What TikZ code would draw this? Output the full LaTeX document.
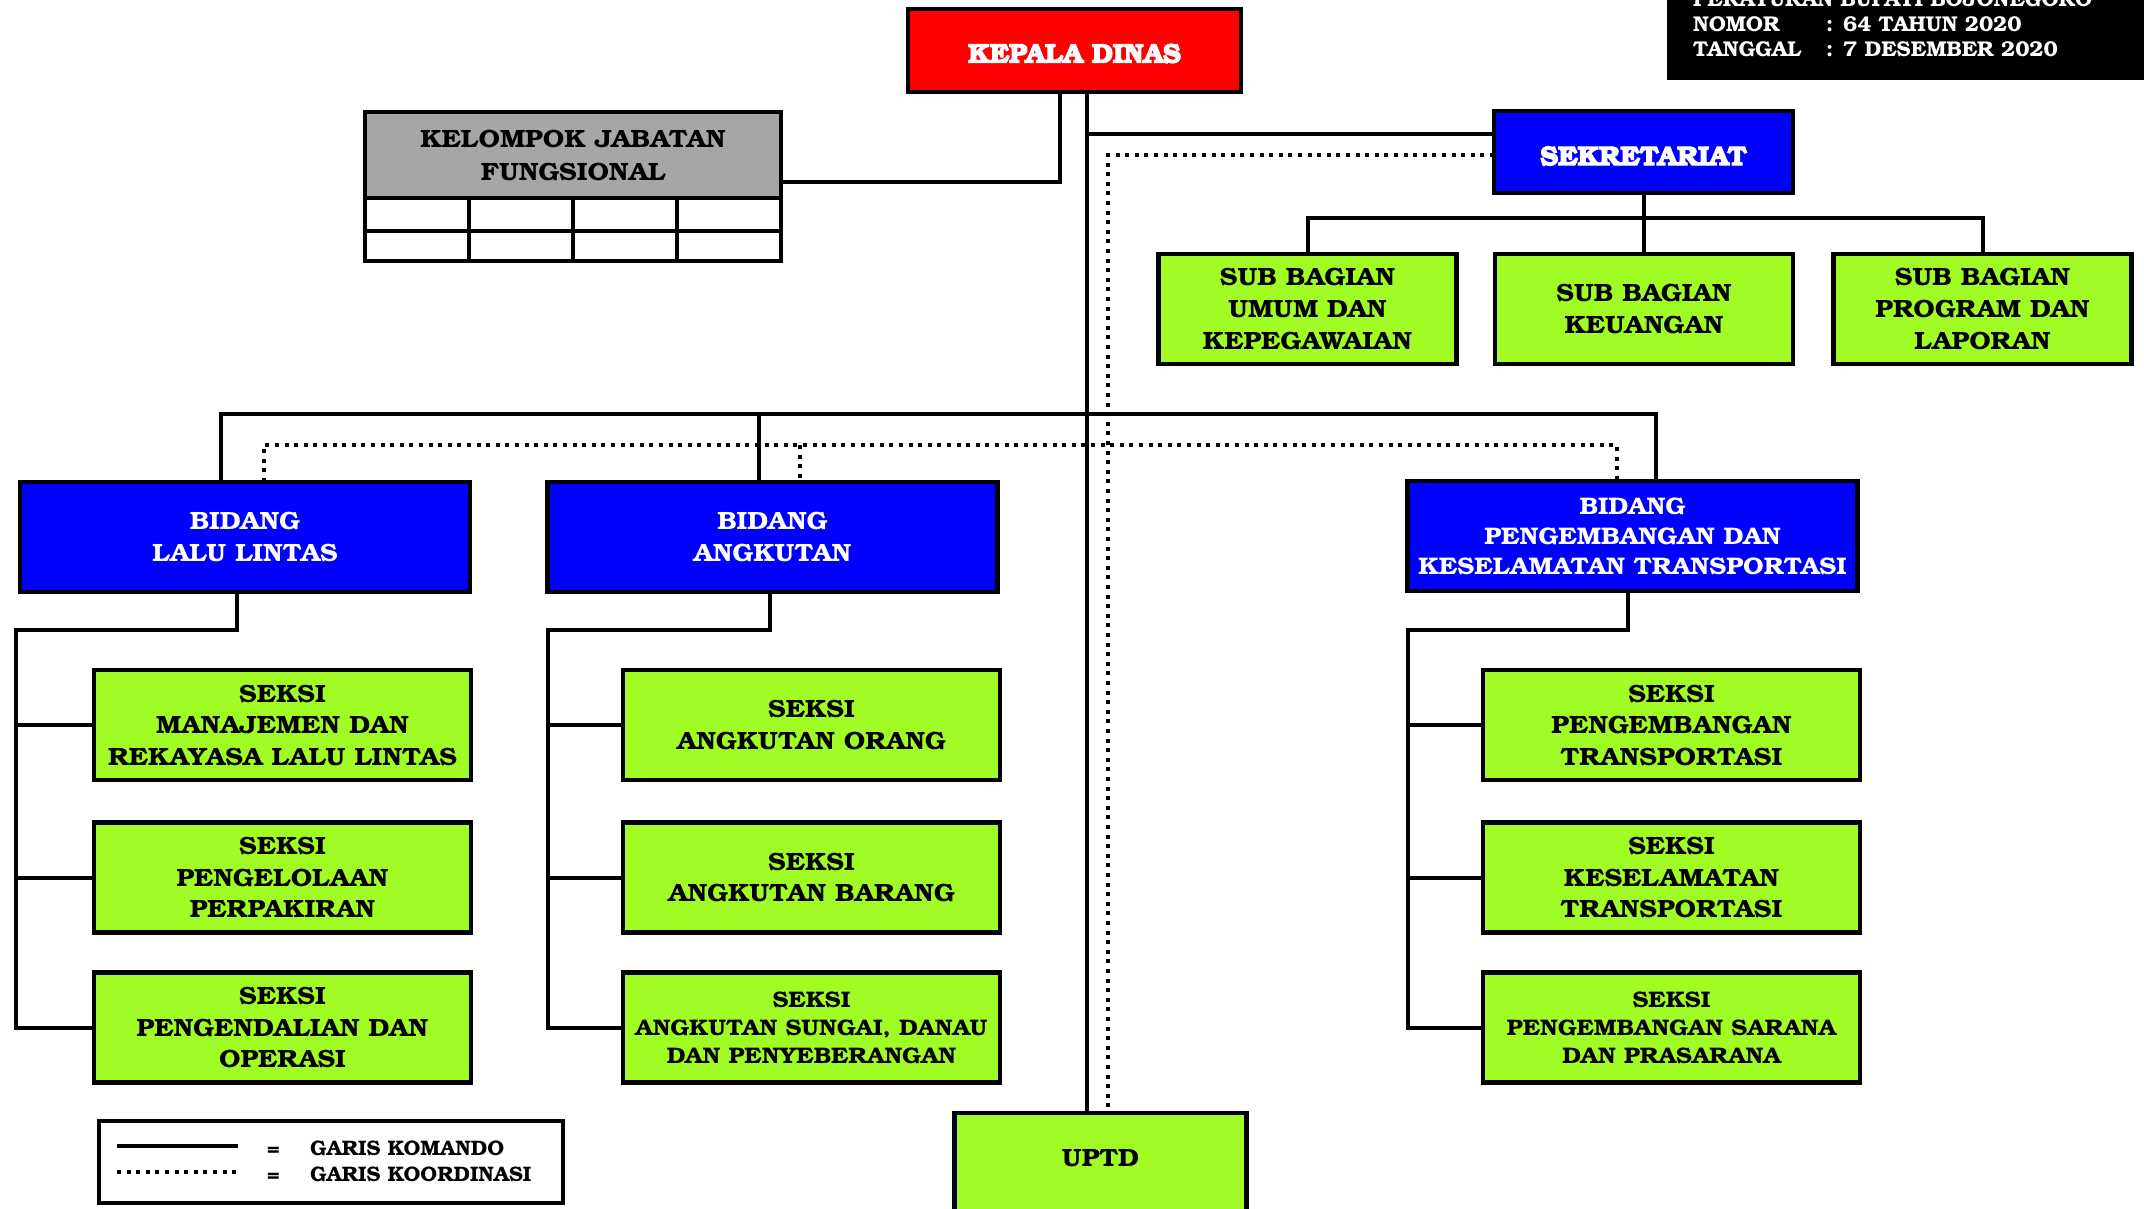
\documentclass[tikz,border=0pt]{standalone}
\usepackage{fontspec}
\setmainfont{texgyrebonum}[Extension=.otf, UprightFont=*-regular, BoldFont=*-bold, ItalicFont=*-italic, BoldItalicFont=*-bolditalic]
\newfontfamily\heavyfont{texgyrebonum-bold.otf}[FakeBold=4]
\newfontfamily\bkw{texgyrebonum-bold.otf}[FakeStretch=1.07]
\definecolor{lgreen}{RGB}{160,252,36}
\definecolor{pblue}{RGB}{0,0,255}
\definecolor{kgray}{RGB}{166,166,166}
\tikzset{
  ln/.style={line width=4pt, line cap=rect},
  koord/.style={line width=4pt, dash pattern=on 4pt off 5.6pt},
  box/.style={draw, line width=4.5pt, inner sep=0pt, outer sep=0pt, align=center,
    font=\bkw\fontsize{25}{31.5}\selectfont},
  small/.style={font=\bkw\fontsize{22.5}{28}\selectfont},
  pk/.style={font=\bkw\fontsize{24}{30}\selectfont},
  gbox/.style={box, fill=lgreen},
  bbox/.style={box, fill=pblue, text=white},
  seksi/.style={gbox, minimum width=377, minimum height=110},
  bid/.style={bbox, minimum width=450, minimum height=110},
  subbag/.style={gbox, minimum width=298, minimum height=110, font=\bkw\fontsize{25}{32}\selectfont},
  headbox/.style={box, text=white, font=\heavyfont\fontsize{27}{30}\selectfont},
  hdrtxt/.style={text=white, inner sep=0pt, anchor=base west, font=\bfseries\fontsize{21.4}{26}\selectfont},
  legtxt/.style={inner sep=0pt, anchor=base west, font=\bfseries\fontsize{21}{26}\selectfont},
}
\begin{document}
\begin{tikzpicture}[x=1pt,y=-1pt]
\useasboundingbox (0,0) rectangle (2144,1208);
% header
\node[fill=black, inner sep=0pt, minimum width=490, minimum height=92, anchor=south west] (hdr) at (1667,80) {};
\node[hdrtxt] (h1) at (1693,6) {PERATURAN BUPATI BOJONEGORO};
\node[hdrtxt] (h2) at (1693,31) {NOMOR};
\node[hdrtxt] (h2c) at (1826,31) {:};
\node[hdrtxt] (h2v) at (1843,31) {64 TAHUN 2020};
\node[hdrtxt] (h3) at (1693,56) {TANGGAL};
\node[hdrtxt] (h3c) at (1826,56) {:};
\node[hdrtxt] (h3v) at (1843,56) {7 DESEMBER 2020};
% top nodes
\node[headbox, fill=red, minimum width=333, minimum height=83, text height=24.4pt, text depth=0pt] (kd) at (1074.5,50.5) {KEPALA DINAS};
\node[box, fill=kgray, minimum width=416, minimum height=86, font=\bkw\fontsize{25}{33}\selectfont] (kjf) at (573,155) {KELOMPOK JABATAN\\FUNGSIONAL};
\node[headbox, fill=pblue, minimum width=299, minimum height=82, text height=26.4pt, text depth=0pt] (sek) at (1643.5,152) {SEKRETARIAT};
% kjf table
\draw[line width=4.5pt] (kjf.south west) -- ++(0,63) -| (kjf.south east);
\draw[line width=4.5pt] (kjf.south west) ++(0,33) -- ++(416,0);
\foreach \cx in {104,208,312} \draw[line width=4.5pt] (kjf.south west) ++(\cx,0) -- ++(0,63);
% sub bagian
\node[subbag] (sb1) at (1307.5,309) {SUB BAGIAN\\UMUM DAN\\KEPEGAWAIAN};
\node[subbag] (sb2) at (1644,309) {SUB BAGIAN\\KEUANGAN};
\node[subbag] (sb3) at (1982.5,309) {SUB BAGIAN\\PROGRAM DAN\\LAPORAN};
% bidang
\node[bid] (bll) at (245,537) {BIDANG\\LALU LINTAS};
\node[bid] (ban) at (772.5,537) {BIDANG\\ANGKUTAN};
\node[bid, pk] (bpk) at (1632.5,536) {BIDANG\\PENGEMBANGAN DAN\\KESELAMATAN TRANSPORTASI};
% seksi
\node[seksi] (s11) at (282.5,725) {SEKSI\\MANAJEMEN DAN\\REKAYASA LALU LINTAS};
\node[seksi] (s12) at (282.5,877.5) {SEKSI\\PENGELOLAAN\\PERPAKIRAN};
\node[seksi] (s13) at (282.5,1027.5) {SEKSI\\PENGENDALIAN DAN\\OPERASI};
\node[seksi] (s21) at (811.5,725) {SEKSI\\ANGKUTAN ORANG};
\node[seksi] (s22) at (811.5,877.5) {SEKSI\\ANGKUTAN BARANG};
\node[seksi, small] (s23) at (811.5,1027.5) {SEKSI\\ANGKUTAN SUNGAI, DANAU\\DAN PENYEBERANGAN};
\node[seksi] (s31) at (1671.5,725) {SEKSI\\PENGEMBANGAN\\TRANSPORTASI};
\node[seksi] (s32) at (1671.5,877.5) {SEKSI\\KESELAMATAN\\TRANSPORTASI};
\node[seksi, small] (s33) at (1671.5,1027.5) {SEKSI\\PENGEMBANGAN SARANA\\DAN PRASARANA};
% uptd
\node[gbox, minimum width=292, minimum height=110, text height=17pt, text depth=20pt, anchor=north] (uptd) at (1100.5,1113) {UPTD};
% legend
\node[draw, line width=4pt, inner sep=0pt, minimum width=464, minimum height=82, anchor=north west] (leg) at (97,1119) {};
\coordinate (la1) at (117,1146); \coordinate (la2) at (238,1146);
\coordinate (lb1) at (117,1172); \coordinate (lb2) at (238,1172);
\draw[ln, line cap=butt] (la1) -- (la2);
\draw[koord] (lb1) -- (lb2);
\node[legtxt] (le1) at (267,1155) {=};
\node[legtxt] (lt1) at (310,1155) {GARIS KOMANDO};
\node[legtxt] (le2) at (267,1181) {=};
\node[legtxt] (lt2) at (310,1181) {GARIS KOORDINASI};
% connectors: top
\coordinate (kjfj) at (1060,182);
\draw[ln] (kd.south -| kjfj) -- (kjfj) -- (kjf.east |- kjfj);
\coordinate (mx) at (1087,0);
\draw[ln, line cap=butt] (kd.south -| mx) -- (uptd.north -| mx);
\coordinate (sekj) at (1087,134);
\draw[ln] (sekj) -- (sek.west |- sekj);
\coordinate (dx) at (1108,155);
\draw[koord] (sek.west |- dx) -- (dx) -- (uptd.north -| dx);
\coordinate (sbj) at (0,218);
\draw[ln] (sek.south) -- (sek.south |- sbj);
\draw[ln] (sb1.north) -- (sb1.north |- sbj) -- (sb3.north |- sbj) -- (sb3.north);
\draw[ln] (sb2.north |- sbj) -- (sb2.north);
% bus
\coordinate (b1) at (221,414); \coordinate (b2) at (759,414); \coordinate (b3) at (1656,414);
\draw[ln] (bll.north -| b1) -- (b1) -- (b3) -- (bpk.north -| b3);
\draw[ln] (b2) -- (ban.north -| b2);
\coordinate (d1) at (264,445); \coordinate (d2) at (800,445); \coordinate (d3) at (1617,445);
\draw[koord] (bll.north -| d1) -- (d1) -- (d3) -- (bpk.north -| d3);
\draw[koord] (d2) -- (ban.north -| d2);
% group connectors
\coordinate (l1) at (237,630); \coordinate (l2) at (16,630);
\draw[ln] (bll.south -| l1) -- (l1) -- (l2) -- (l2 |- s13.west) -- (s13.west);
\draw[ln] (l2 |- s11.west) -- (s11.west);
\draw[ln] (l2 |- s12.west) -- (s12.west);
\coordinate (m1) at (770,630); \coordinate (m2) at (548,630);
\draw[ln] (ban.south -| m1) -- (m1) -- (m2) -- (m2 |- s23.west) -- (s23.west);
\draw[ln] (m2 |- s21.west) -- (s21.west);
\draw[ln] (m2 |- s22.west) -- (s22.west);
\coordinate (r1) at (1628,630); \coordinate (r2) at (1408,630);
\draw[ln] (bpk.south -| r1) -- (r1) -- (r2) -- (r2 |- s33.west) -- (s33.west);
\draw[ln] (r2 |- s31.west) -- (s31.west);
\draw[ln] (r2 |- s32.west) -- (s32.west);
\end{tikzpicture}
\end{document}
